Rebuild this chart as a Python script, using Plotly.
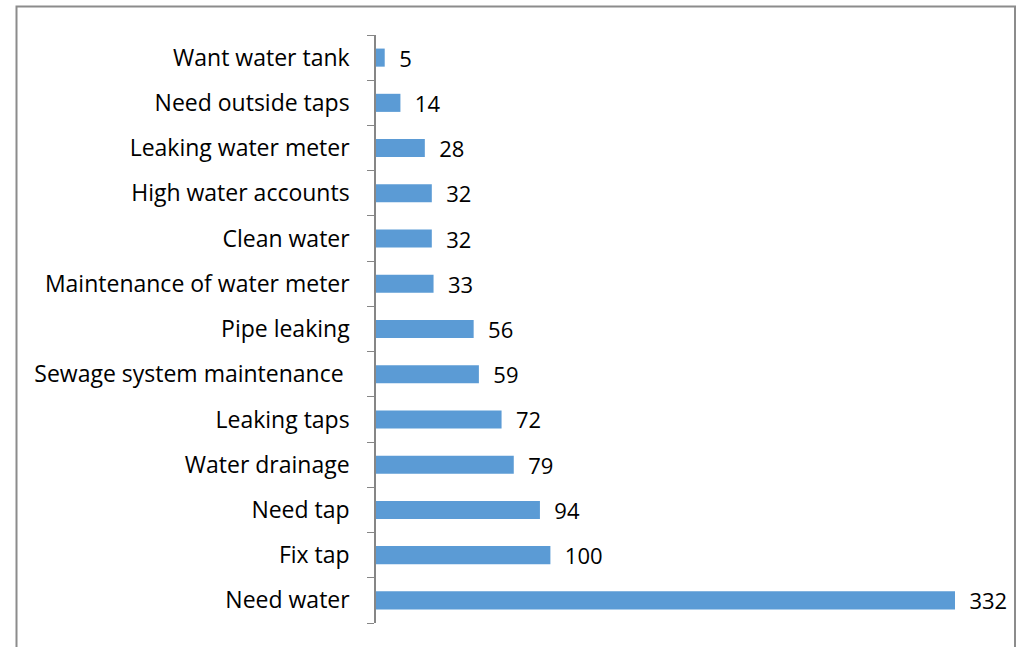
import plotly.graph_objects as go

categories = ["Need water", "Fix tap", "Need tap", "Water drainage", "Leaking taps",
              "Sewage system maintenance ", "Pipe leaking", "Maintenance of water meter",
              "Clean water", "High water accounts", "Leaking water meter",
              "Need outside taps", "Want water tank"]
values = [332, 100, 94, 79, 72, 59, 56, 33, 32, 32, 28, 14, 5]

W, H = 1024, 647
L, R, T, B = 376, 24, 35, 24
pw, ph = W - L - R, H - T - B

def px_x(px):
    return (px - L) / pw

def px_y(py):
    return (H - B - py) / ph

FONT = "Open Sans, Lato, sans-serif"

fig = go.Figure(go.Bar(
    x=values, y=categories, orientation="h",
    marker=dict(color="#5B9BD5", line=dict(width=0)),
    width=0.4,
    text=values, texttemplate="  %{x}", textposition="outside",
    constraintext="none",
    textfont=dict(family=FONT, size=22, color="#000000"),
    cliponaxis=False,
))

fig.update_layout(
    width=W, height=H,
    margin=dict(l=L, r=R, t=T, b=B),
    paper_bgcolor="white", plot_bgcolor="white",
    showlegend=False,
    xaxis=dict(range=[0, pw / (579 / 332)], visible=False, showgrid=False, zeroline=False),
    yaxis=dict(type="category", tickson="boundaries", ticks="outside", ticklen=7,
               tickcolor="#868686", showline=True, linecolor="#868686", linewidth=1.5,
               showgrid=False, range=[-0.5, 12.5], automargin=False,
               tickfont=dict(family=FONT, size=23, color="#000000"),
               ticklabelstandoff=20),
    shapes=[dict(type="rect", xref="paper", yref="paper",
                 x0=px_x(16.5), x1=px_x(1015), y0=px_y(670), y1=px_y(6.5),
                 line=dict(color="#8C8C8C", width=2), layer="below")],
)

fig.write_html("out.html", config={"displayModeBar": False},
               post_script="document.body.style.margin='0';")
